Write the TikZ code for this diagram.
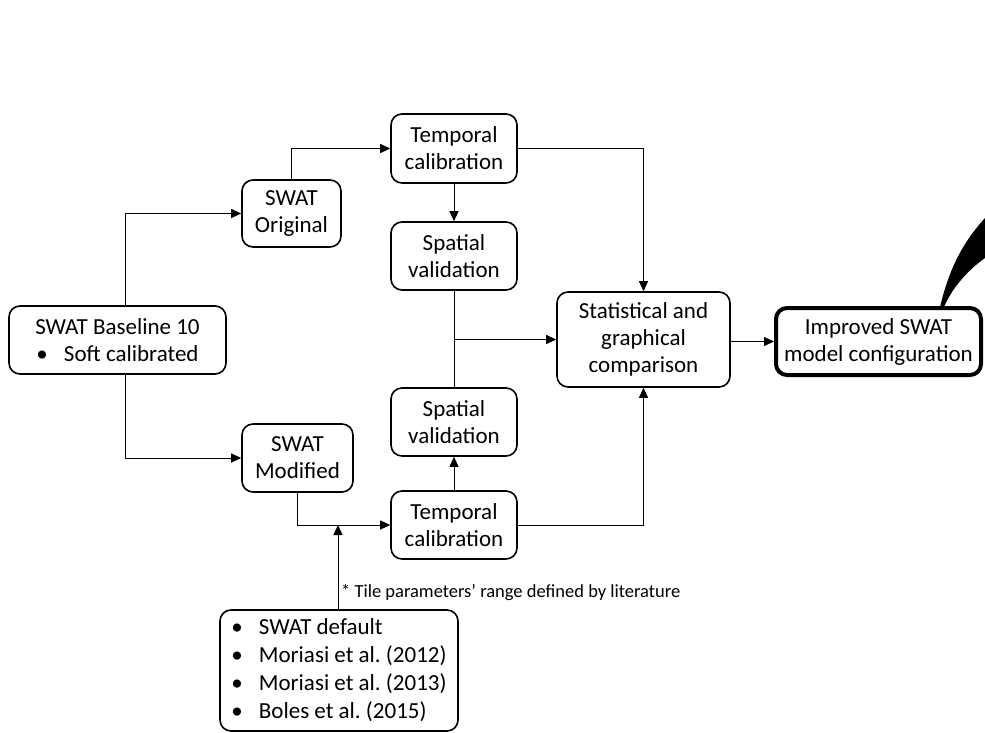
\documentclass[tikz,border=0pt]{standalone}
\usepackage{fontspec}
\setmainfont{Carlito}
\usetikzlibrary{arrows.meta,calc}
\frenchspacing
\newcommand{\blt}{\textbullet\hspace{0.7em}}
\begin{document}
\begin{tikzpicture}[x=1pt,y=-1pt,
  box/.style={draw, rounded corners=11pt, line width=1.6pt, align=center,
    font=\fontsize{23}{27}\selectfont, inner sep=0pt},
  conn/.style={line width=1pt},
  arr/.style={conn,-{Triangle[length=10pt,width=9pt]}}]
\useasboundingbox (0,0) rectangle (985,732);
% decorative black wedge
\fill (940,307) .. controls (950,265) and (965,240) .. (985,218) -- (985,258) .. controls (968,270) and (952,288) .. (944,307) -- cycle;
\node[box, minimum width=217pt, minimum height=68pt] (base) at (117.5,340) {SWAT Baseline 10\\\blt Soft calibrated};
\node[box, minimum width=99pt, minimum height=67pt] (orig) at (291.5,213.5) {SWAT\\Original};
\node[box, minimum width=126pt, minimum height=69pt] (tcal1) at (454,148.5) {Temporal\\calibration};
\node[box, minimum width=126pt, minimum height=68pt] (scal1) at (454,256) {Spatial\\validation};
\node[box, minimum width=173pt, minimum height=95pt] (stat) at (643.5,339.5) {Statistical and\\graphical\\comparison};
\node[box, line width=4pt, minimum width=205pt, minimum height=67pt] (impr) at (878.5,341.5) {Improved SWAT\\model configuration};
\node[box, minimum width=126pt, minimum height=68pt] (scal2) at (454,422) {Spatial\\validation};
\node[box, minimum width=111pt, minimum height=68pt] (mod) at (297.5,458) {SWAT\\Modified};
\node[box, minimum width=126pt, minimum height=68pt] (tcal2) at (454,525) {Temporal\\calibration};
\node[box, align=left, minimum width=238pt, minimum height=121pt, font=\fontsize{23}{28}\selectfont] (lit) at (339,670.5)
  {\blt SWAT default\\\blt Moriasi et al. (2012)\\\blt Moriasi et al. (2013)\\\blt Boles et al. (2015)};
\node[anchor=west, inner sep=0pt, font=\fontsize{18.5}{22}\selectfont] (note) at (341,593) {* Tile parameters’ range defined by literature};
% connectors
\draw[arr] ([xshift=7.5pt]base.north) |- (orig.west);
\draw[arr] ([xshift=7.5pt]base.south) |- (mod.west);
\draw[arr] (orig.north) |- (tcal1.west);
\draw[arr] (tcal1.south) -- (scal1.north);
\draw[arr] (tcal1.east) -| (stat.north);
\draw[conn] (scal1.south) -- (scal2.north);
\draw[arr] (scal1.south |- stat.west) -- (stat.west);
\draw[arr] (tcal2.north) -- (scal2.south);
\draw[arr] (tcal2.east) -| (stat.south);
\draw[arr] (mod.south) |- (tcal2.west);
\coordinate (j) at ([xshift=-1pt]lit.north |- tcal2.west);
\draw[arr] ([xshift=-1pt]lit.north) -- (j);
\draw[arr] (stat.east |- impr.west) -- (impr.west);
\end{tikzpicture}
\end{document}
